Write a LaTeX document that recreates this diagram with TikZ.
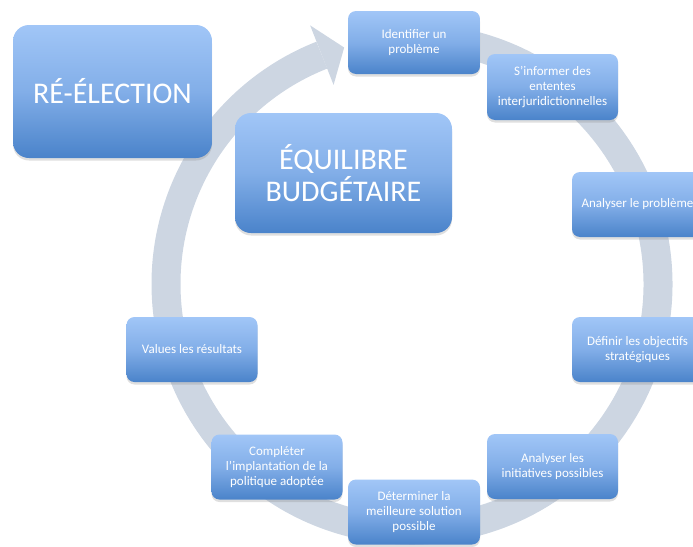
\documentclass[tikz,border=0pt]{standalone}
\usepackage{fontspec}
\setmainfont{Carlito}
\usetikzlibrary{shadows}
\definecolor{boxtop}{HTML}{A1C6F7}
\definecolor{boxmid}{HTML}{82AEE8}
\definecolor{boxbot}{HTML}{4A83CA}
\definecolor{ringc}{HTML}{CDD6E2}
\tikzset{
  stepbox/.style={rounded corners=8pt, top color=boxtop, bottom color=boxbot, middle color=boxmid,
    text=white, align=center, inner sep=0pt, minimum width=131pt, minimum height=65pt,
    font=\fontsize{13}{15}\selectfont,
    drop shadow={shadow xshift=0pt, shadow yshift=-2.5pt, opacity=0.25}},
  bigbox/.style={stepbox, rounded corners=16pt, font=\fontsize{30}{32}\selectfont},
}
\begin{document}
\begin{tikzpicture}[x=1pt,y=-1pt]
\useasboundingbox (0,0) rectangle (693,546);
% ring arrow
\begin{scope}[shift={(412,284)},yscale=-1]
  \draw[ringc, line width=29pt] (95:246) arc[start angle=95, end angle=-248.5, radius=246];
  \fill[ringc] (111.5:278) -- (106:246) -- (111.5:214) -- cycle;
\end{scope}
% nodes
\node[bigbox, minimum width=199pt, minimum height=133pt] (ree) at (112.5,91.5) {RÉ-ÉLECTION};
\node[bigbox, minimum width=217pt, minimum height=120pt] (equ) at (343.5,173) {ÉQUILIBRE\\BUDGÉTAIRE};
\node[stepbox, minimum width=132pt, minimum height=63pt] (idf) at (414,42.5) {Identifier un\\problème};
\node[stepbox, minimum height=66pt] (inf) at (552.5,87) {S’informer des\\ententes\\interjuridictionnelles};
\node[stepbox] (anp) at (637.5,204.5) {Analyser le problème};
\node[stepbox] (dfo) at (637.5,349.5) {Définir les objectifs\\stratégiques};
\node[stepbox] (ani) at (552.5,466.5) {Analyser les\\initiatives possibles};
\node[stepbox, minimum width=132pt] (dtm) at (414,512) {Déterminer la\\meilleure solution\\possible};
\node[stepbox] (cpl) at (277,467) {Compléter\\l'implantation de la\\politique adoptée};
\node[stepbox] (val) at (192,349.5) {Values les résultats};
\end{tikzpicture}
\end{document}
